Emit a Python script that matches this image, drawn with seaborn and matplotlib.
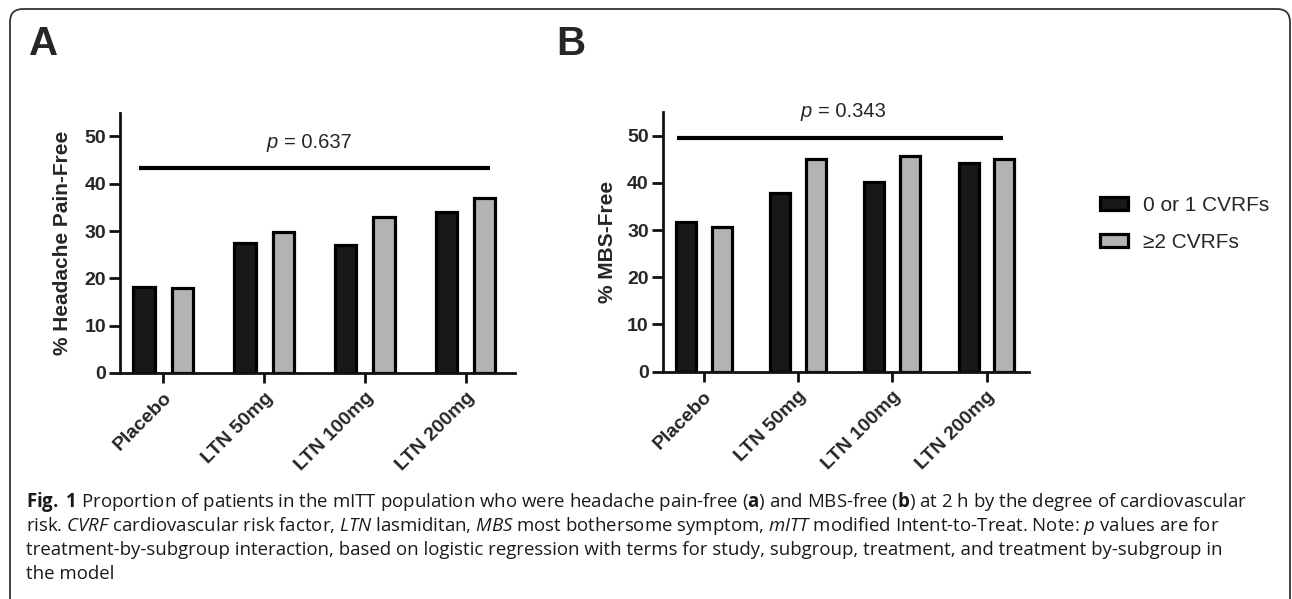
import pandas as pd
import matplotlib.pyplot as plt
import seaborn as sns
from matplotlib.patches import Patch, FancyBboxPatch
from matplotlib.transforms import IdentityTransform

# data
doses = ["Placebo", "LTN 50mg", "LTN 100mg", "LTN 200mg"]
groups = ["0 or 1 CVRFs", "\u22652 CVRFs"]
painfree_low = [18.1, 27.4, 27.1, 34.1]
painfree_high = [17.9, 29.7, 32.9, 37.0]
mbsfree_low = [31.7, 37.9, 40.1, 44.2]
mbsfree_high = [30.7, 45.1, 45.7, 45.0]
p_values = ["0.637", "0.343"]

BLACK = "#181818"
GRAY = "#b3b3b3"

sns.set_style("ticks")
plt.rcParams["font.family"] = ["Liberation Sans", "DejaVu Sans"]
plt.rcParams["mathtext.fontset"] = "custom"
plt.rcParams["mathtext.rm"] = "Open Sans"
plt.rcParams["mathtext.it"] = "Open Sans:italic"
plt.rcParams["mathtext.bf"] = "Open Sans:bold"


def make_df(low, high):
    return pd.DataFrame({
        "dose": doses * 2,
        "group": [groups[0]] * 4 + [groups[1]] * 4,
        "pct": low + high,
    })


fig = plt.figure(figsize=(12.92, 5.99), dpi=100)

ax_a = fig.add_axes([0.0929, 0.3773, 0.3057, 0.4346])
ax_b = fig.add_axes([0.5129, 0.3795, 0.2835, 0.4334])

panels = [
    (ax_a, make_df(painfree_low, painfree_high), "% Headache Pain-Free", (-0.43, 3.49), 43.4, (-0.24, 3.24), 48.7, 1.165, 9),
    (ax_b, make_df(mbsfree_low, mbsfree_high), "% MBS-Free", (-0.435, 3.45), 49.6, (-0.28, 3.18), 55.2, 1.18, 7),
]

for i, (ax, df, ylab, xlim, line_y, line_x, text_y, text_x, lpad) in enumerate(panels):
    sns.barplot(data=df, x="dose", y="pct", hue="group", hue_order=groups,
                palette=[BLACK, GRAY], width=0.76, gap=0.44, errorbar=None,
                edgecolor="black", linewidth=2.3, legend=False, ax=ax)
    ax.set_xlim(*xlim)
    ax.set_ylim(0, 55)
    ax.set_yticks([0, 10, 20, 30, 40, 50])
    ax.set_xlabel("")
    ax.set_ylabel(ylab, fontsize=15, fontweight="bold", labelpad=lpad)
    sns.despine(ax=ax)
    for s in ["left", "bottom"]:
        ax.spines[s].set_linewidth(2.0)
        ax.spines[s].set_color("#111111")
    ax.tick_params(axis="y", left=True, length=8, width=2.0, pad=2,
                   labelsize=14, color="#111111")
    ax.tick_params(axis="x", bottom=True, length=7.5, width=2.0, pad=4,
                   labelsize=14, color="#111111")
    for lab in ax.get_yticklabels():
        lab.set_fontweight("bold")
    ax.set_xticks(range(len(doses)))
    ax.set_xticklabels(doses, rotation=45, ha="right", va="top",
                       rotation_mode="anchor", fontweight="bold")
    # interaction line + p value
    ax.plot(line_x, [line_y, line_y], color="black", lw=3, clip_on=False,
            solid_capstyle="butt")
    ax.annotate("p", (text_x, text_y), xytext=(-2, 0), textcoords="offset points",
                ha="right", va="center", fontsize=14.5, style="italic",
                annotation_clip=False)
    ax.annotate("= " + p_values[i], (text_x, text_y), xytext=(2, 0),
                textcoords="offset points", ha="left", va="center",
                fontsize=14.5, annotation_clip=False)

# panel letters
fig.text(29 / 1292, 1 - 55 / 599, "A", fontsize=29, fontweight="bold", va="baseline")
fig.text(556 / 1292, 1 - 55 / 599, "B", fontsize=29, fontweight="bold", va="baseline")

# legend
handles = [Patch(facecolor=BLACK, edgecolor="black", linewidth=2.3),
           Patch(facecolor=GRAY, edgecolor="black", linewidth=2.3)]
fig.legend(handles, groups, loc="upper left",
           bbox_to_anchor=(1100 / 1292, 1 - 196 / 599), frameon=False,
           fontsize=15, handlelength=1.35, handleheight=0.6,
           handletextpad=0.72, labelspacing=0.85, borderpad=0, borderaxespad=0)

# caption
caption = [
    r"$\mathbf{Fig.}$ $\mathbf{1}$ Proportion of patients in the mITT population who were headache pain-free ($\mathbf{a}$) and MBS-free ($\mathbf{b}$) at 2 h by the degree of cardiovascular",
    r"risk. $\mathit{CVRF}$ cardiovascular risk factor, $\mathit{LTN}$ lasmiditan, $\mathit{MBS}$ most bothersome symptom, $\mathit{mITT}$ modified Intent-to-Treat. Note: $\mathit{p}$ values are for",
    "treatment-by-subgroup interaction, based on logistic regression with terms for study, subgroup, treatment, and treatment by-subgroup in",
    "the model",
]
texts = []
for k, line in enumerate(caption):
    t = fig.text(26 / 1292, 1 - (507 + 24 * k) / 599, line, fontsize=12,
                 family="Open Sans", va="baseline", color="#1a1a1a")
    texts.append(t)
renderer = fig.canvas.get_renderer()
w = texts[0].get_window_extent(renderer).width
for t in texts:
    t.set_fontsize(12 * 1222 / w)

# rounded frame around the figure
frame = FancyBboxPatch((10, -12), 1280, 602,
                       boxstyle="round,pad=0,rounding_size=13",
                       transform=IdentityTransform(), facecolor="none",
                       edgecolor="#333333", linewidth=1.3)
fig.patches.append(frame)

fig.savefig("out.png", dpi=100)
